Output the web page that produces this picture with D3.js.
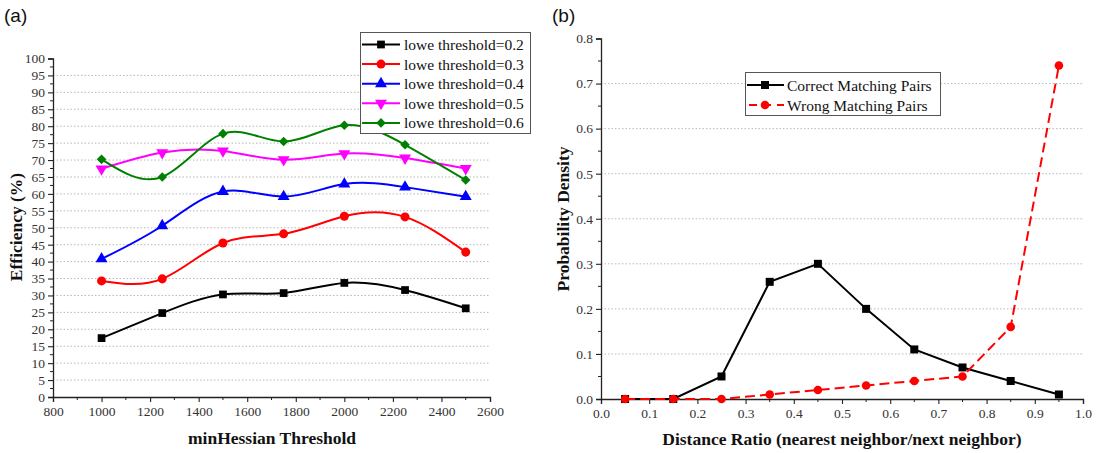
<!DOCTYPE html>
<html><head><meta charset="utf-8">
<script src="https://cdn.jsdelivr.net/npm/d3@7"></script>
<style>
body{margin:0;background:#fff;}
text{font-family:"Liberation Serif","Times New Roman",serif;}
</style></head>
<body>
<svg id="chart" width="1096" height="453"></svg>
<script>
// ---------- data (a) ----------
const hessianX = [1000, 1250, 1500, 1750, 2000, 2250, 2500];
const lowe02 = [17.4, 24.8, 30.3, 30.7, 33.7, 31.6, 26.2];
const lowe03 = [34.3, 34.9, 45.5, 48.2, 53.4, 53.2, 42.8];
const lowe04 = [40.8, 50.6, 60.7, 59.2, 62.9, 62.0, 59.2];
const lowe05 = [67.4, 72.2, 72.7, 70.1, 71.9, 70.6, 67.5];
const lowe06 = [70.2, 65.0, 77.8, 75.5, 80.3, 74.5, 64.1];
const loweNames = ["lowe threshold=0.2","lowe threshold=0.3","lowe threshold=0.4","lowe threshold=0.5","lowe threshold=0.6"];
const hessTicks = [800,1000,1200,1400,1600,1800,2000,2200,2400,2600];
const effTicks = [0,5,10,15,20,25,30,35,40,45,50,55,60,65,70,75,80,85,90,95,100];

// ---------- data (b) ----------
const ratioX = [0.05,0.15,0.25,0.35,0.45,0.55,0.65,0.75,0.85,0.95];
const correctPairs = [0, 0, 0.05, 0.26, 0.30, 0.20, 0.11, 0.07, 0.04, 0.01];
const wrongPairs   = [0, 0, 0, 0.01, 0.02, 0.03, 0.04, 0.05, 0.16, 0.74];
const pairNames = ["Correct Matching Pairs","Wrong Matching Pairs"];
const ratioTicks = [0,0.1,0.2,0.3,0.4,0.5,0.6,0.7,0.8,0.9,1.0];
const densTicks = [0,0.1,0.2,0.3,0.4,0.5,0.6,0.7,0.8];

const svg = d3.select("#chart");
const axisCol = "#222";
const gridCol = "#b8b8b8";

function drawAxes(g, x, y, xt, yt, xMinor, yMinor, fmtX, fmtY) {
  const [x0, x1] = x.range(), [y0, y1] = y.range();
  g.append("g").selectAll("line").data(yt.filter(v => v !== yt[0] && v !== yt[yt.length-1]))
    .join("line").attr("x1", x0).attr("x2", x1).attr("y1", d => y(d)).attr("y2", d => y(d))
    .attr("stroke", gridCol).attr("stroke-width", 1).attr("stroke-dasharray", "1.5,2");
  const xa = g.append("g").attr("transform", `translate(0,${y0})`)
    .call(d3.axisBottom(x).tickValues(xt).tickFormat(fmtX).tickSizeOuter(0).tickSize(5).tickPadding(4));
  xa.append("g").selectAll("line").data(xMinor).join("line")
    .attr("x1", d => x(d)).attr("x2", d => x(d)).attr("y1", 0).attr("y2", 3).attr("stroke", axisCol);
  const ya = g.append("g").attr("transform", `translate(${x0},0)`)
    .call(d3.axisLeft(y).tickValues(yt).tickFormat(fmtY).tickSizeOuter(0).tickSize(5).tickPadding(3));
  ya.append("g").selectAll("line").data(yMinor).join("line")
    .attr("y1", d => y(d)).attr("y2", d => y(d)).attr("x1", 0).attr("x2", -3).attr("stroke", axisCol);
  [xa, ya].forEach(a => {
    a.selectAll("path.domain").attr("stroke", axisCol).attr("stroke-width", 1.3);
    a.selectAll(".tick line").attr("stroke", axisCol).attr("stroke-width", 1.1);
    a.selectAll("text").attr("font-family", "'Liberation Serif','Times New Roman',serif")
      .attr("font-size", 13.5).attr("fill", "#333");
  });
}

// ================= (a) =================
const xA = d3.scaleLinear().domain([800, 2600]).range([53, 490]);
const yA = d3.scaleLinear().domain([0, 100]).range([397, 58.5]);
const gA = svg.append("g");
const hessMinor = d3.range(900, 2600, 200);
const effMinor = d3.range(2.5, 100, 5);
drawAxes(gA, xA, yA, hessTicks, effTicks, hessMinor, effMinor, d3.format("d"), d3.format("d"));

const seriesA = [lowe02, lowe03, lowe04, lowe05, lowe06];
const colorsA = ["#000000", "#ff0000", "#0000ff", "#ff00ff", "#008000"];
const symA = [
  {t: d3.symbolSquare, s: 60, r: 0},
  {t: d3.symbolCircle, s: 64, r: 0},
  {t: d3.symbolTriangle, s: 62, r: 0},
  {t: d3.symbolTriangle, s: 62, r: 180},
  {t: d3.symbolSquare, s: 46, r: 45}
];
const lineA = d3.line().x((d, i) => xA(hessianX[i])).y(d => yA(d)).curve(d3.curveNatural);
seriesA.forEach((s, k) => {
  gA.append("path").attr("d", lineA(s)).attr("fill", "none")
    .attr("stroke", colorsA[k]).attr("stroke-width", 2);
  gA.append("g").selectAll("path").data(s).join("path")
    .attr("d", d3.symbol().type(symA[k].t).size(symA[k].s))
    .attr("transform", (d, i) => `translate(${xA(hessianX[i])},${yA(d)}) rotate(${symA[k].r})`)
    .attr("fill", colorsA[k]);
});

// legend (a)
const legA = svg.append("g");
legA.append("rect").attr("x", 360.5).attr("y", 32.5).attr("width", 170).attr("height", 101)
  .attr("fill", "#fff").attr("stroke", "#555").attr("stroke-width", 1);
loweNames.forEach((n, k) => {
  const yy = 44.5 + k * 19.6;
  legA.append("line").attr("x1", 362).attr("x2", 400).attr("y1", yy).attr("y2", yy)
    .attr("stroke", colorsA[k]).attr("stroke-width", 2);
  legA.append("path").attr("d", d3.symbol().type(symA[k].t).size(symA[k].s))
    .attr("transform", `translate(381,${yy}) rotate(${symA[k].r})`).attr("fill", colorsA[k]);
  legA.append("text").attr("x", 404).attr("y", yy + 5.5).attr("font-size", 15.5).attr("fill", "#111").text(n);
});

svg.append("text").attr("transform", "translate(22,227) rotate(-90)").attr("text-anchor", "middle")
  .attr("font-size", 17.5).attr("font-weight", "bold").attr("fill", "#111").text("Efficiency (%)");
svg.append("text").attr("x", 272).attr("y", 444).attr("text-anchor", "middle")
  .attr("font-size", 17.5).attr("font-weight", "bold").attr("fill", "#111").text("minHessian Threshold");
svg.append("text").attr("x", 4).attr("y", 22).attr("font-size", 19)
  .style("font-family", "'Liberation Sans',Arial,sans-serif").attr("fill", "#111").text("(a)");

// ================= (b) =================
const xB = d3.scaleLinear().domain([0, 1]).range([601, 1083]);
const yB = d3.scaleLinear().domain([0, 0.8]).range([399, 38.5]);
const gB = svg.append("g");
const ratioMinor = d3.range(0.05, 1, 0.1);
const densMinor = d3.range(0.05, 0.8, 0.1);
drawAxes(gB, xB, yB, ratioTicks, densTicks, ratioMinor, densMinor, d3.format(".1f"), d3.format(".1f"));

const lineB = d3.line().x((d, i) => xB(ratioX[i])).y(d => yB(d));
gB.append("path").attr("d", lineB(correctPairs)).attr("fill", "none").attr("stroke", "#000").attr("stroke-width", 2);
gB.append("g").selectAll("rect").data(correctPairs).join("rect")
  .attr("x", (d, i) => xB(ratioX[i]) - 4).attr("y", d => yB(d) - 4)
  .attr("width", 8).attr("height", 8).attr("fill", "#000");
gB.append("path").attr("d", lineB(wrongPairs)).attr("fill", "none").attr("stroke", "#ff0000")
  .attr("stroke-width", 2).attr("stroke-dasharray", "10,5");
gB.append("g").selectAll("circle").data(wrongPairs).join("circle")
  .attr("cx", (d, i) => xB(ratioX[i])).attr("cy", d => yB(d)).attr("r", 4.3).attr("fill", "#ff0000");

// legend (b)
const legB = svg.append("g");
legB.append("rect").attr("x", 745.5).attr("y", 72.5).attr("width", 195).attr("height", 43)
  .attr("fill", "#fff").attr("stroke", "#555").attr("stroke-width", 1);
legB.append("line").attr("x1", 747).attr("x2", 784).attr("y1", 85).attr("y2", 85).attr("stroke", "#000").attr("stroke-width", 2);
legB.append("rect").attr("x", 761).attr("y", 81).attr("width", 8).attr("height", 8).attr("fill", "#000");
legB.append("line").attr("x1", 747).attr("x2", 784).attr("y1", 105).attr("y2", 105).attr("stroke", "#ff0000")
  .attr("stroke-width", 2).attr("stroke-dasharray", "8,6").attr("stroke-dashoffset", -2);
legB.append("circle").attr("cx", 765).attr("cy", 105).attr("r", 4.3).attr("fill", "#ff0000");
pairNames.forEach((n, k) => {
  legB.append("text").attr("x", 787).attr("y", 90.5 + k * 20).attr("font-size", 15.5).attr("fill", "#111").text(n);
});

svg.append("text").attr("transform", "translate(569,219) rotate(-90)").attr("text-anchor", "middle")
  .attr("font-size", 17.5).attr("font-weight", "bold").attr("fill", "#111").text("Probability Density");
svg.append("text").attr("x", 842).attr("y", 445).attr("text-anchor", "middle")
  .attr("font-size", 17.5).attr("font-weight", "bold").attr("fill", "#111").text("Distance Ratio (nearest neighbor/next neighbor)");
svg.append("text").attr("x", 552).attr("y", 22).attr("font-size", 19)
  .style("font-family", "'Liberation Sans',Arial,sans-serif").attr("fill", "#111").text("(b)");
</script>
</body></html>
